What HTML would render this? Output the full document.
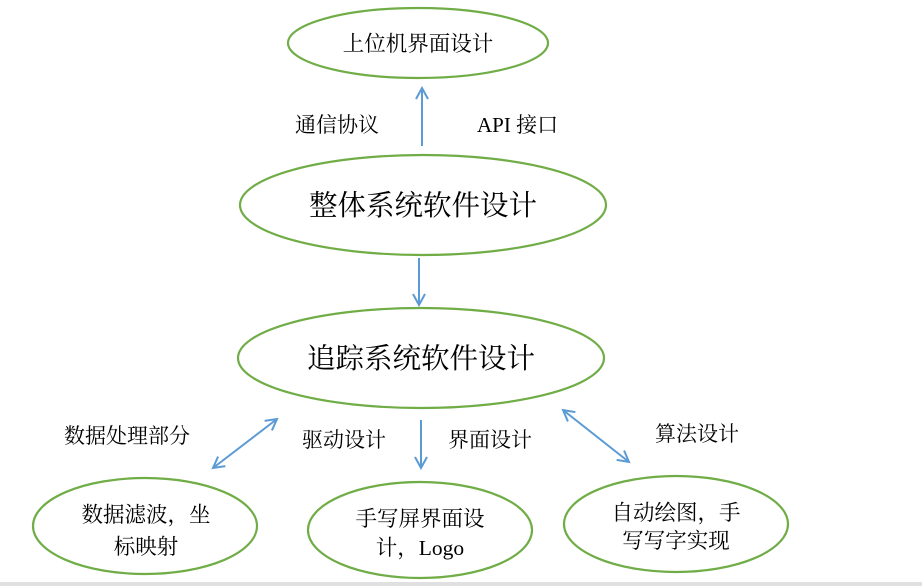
<!DOCTYPE html>
<html><head><meta charset="utf-8"><style>
body{margin:0;width:922px;height:586px;background:#fff;overflow:hidden}
svg{display:block}
text{font-family:"Liberation Serif","Noto Serif CJK SC","Noto Sans CJK SC",serif;fill:#000}
</style></head><body>
<svg width="922" height="586" viewBox="0 0 922 586">
<defs>
<marker id="a" markerWidth="14" markerHeight="14" refX="12" refY="7" orient="auto-start-reverse" markerUnits="userSpaceOnUse">
<path d="M1,1 L12,7 L1,13" fill="none" stroke="#5b9bd5" stroke-width="2"/></marker>
</defs>
<rect x="0" y="582" width="922" height="4" fill="#e0e0e0"/>
<g fill="none" stroke="#70ad47" stroke-width="2.2">
<ellipse cx="418" cy="43" rx="130" ry="35"/>
<ellipse cx="423" cy="205" rx="183" ry="50"/>
<ellipse cx="421" cy="358" rx="183" ry="50"/>
<ellipse cx="145" cy="526" rx="112" ry="48"/>
<ellipse cx="420" cy="530" rx="112" ry="48"/>
<ellipse cx="676" cy="524" rx="112" ry="48"/>
</g>
<g stroke="#5b9bd5" stroke-width="2" fill="none">
<line x1="422" y1="146" x2="422" y2="88" marker-end="url(#a)"/>
<line x1="419" y1="258" x2="419" y2="305" marker-end="url(#a)"/>
<line x1="421" y1="420" x2="421" y2="468" marker-end="url(#a)"/>
<line x1="213" y1="468" x2="277" y2="419" marker-start="url(#a)" marker-end="url(#a)"/>
<line x1="563" y1="410" x2="629" y2="462" marker-start="url(#a)" marker-end="url(#a)"/>
</g>
<g text-anchor="middle">
<text x="418" y="51" font-size="21.5">上位机界面设计</text>
<text x="423" y="215" font-size="28.5">整体系统软件设计</text>
<text x="421" y="368" font-size="28.5">追踪系统软件设计</text>
<text x="146" y="522" font-size="21.5">数据滤波，坐</text>
<text x="146" y="554" font-size="21.5">标映射</text>
<text x="420" y="526" font-size="21.5">手写屏界面设</text>
<text x="420" y="555" font-size="21.5">计，Logo</text>
<text x="676" y="520" font-size="21.5">自动绘图，手</text>
<text x="676" y="548" font-size="21.5">写写字实现</text>
</g>
<g font-size="21">
<text x="295" y="132">通信协议</text>
<text x="477" y="132">API 接口</text>
<text x="64" y="443">数据处理部分</text>
<text x="302" y="447">驱动设计</text>
<text x="448" y="447">界面设计</text>
<text x="655" y="441">算法设计</text>
</g>
</svg>
</body></html>
